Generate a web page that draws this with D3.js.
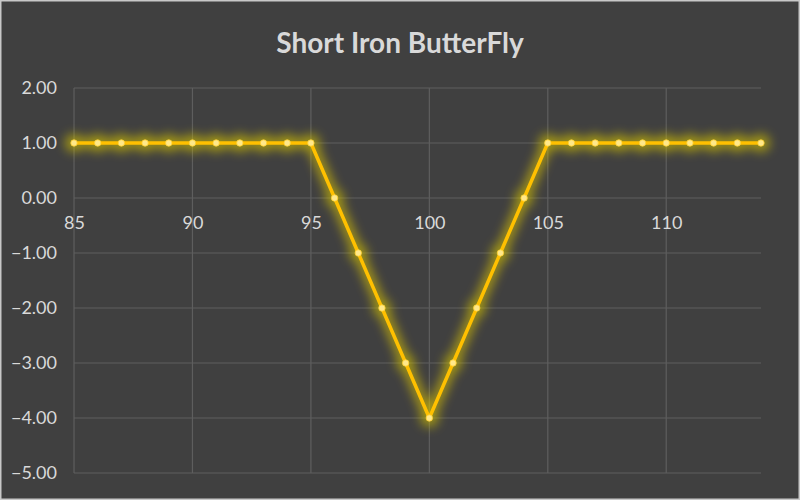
<!DOCTYPE html>
<html><head><meta charset="utf-8">
<script src="https://cdn.jsdelivr.net/npm/d3@7"></script>
<style>html,body{margin:0;padding:0;background:#404040;}svg{display:block;}</style>
</head><body>
<script>
const strikes = [85,86,87,88,89,90,91,92,93,94,95,96,97,98,99,100,101,102,103,104,105,106,107,108,109,110,111,112,113,114];
const payoff  = [1,1,1,1,1,1,1,1,1,1,1,0,-1,-2,-3,-4,-3,-2,-1,0,1,1,1,1,1,1,1,1,1,1];
const xTicks = [85,90,95,100,105,110];
const yTicks = [2,1,0,-1,-2,-3,-4,-5];
const title = "Short Iron ButterFly";

const W=800,H=500;
const FONT="Lato, 'Open Sans', sans-serif";
const svg=d3.select("body").append("svg").attr("width",W).attr("height",H);
svg.append("rect").attr("x",0.75).attr("y",0.75).attr("width",W-1.5).attr("height",H-1.5)
  .attr("fill","#404040").attr("stroke","#c8c8c8").attr("stroke-width",1.5);

const x=d3.scaleLinear().domain([85,114]).range([74,761]);
const y=d3.scaleLinear().domain([-5,2]).range([473,88]);

const defs=svg.append("defs");
const f=defs.append("filter").attr("id","glow").attr("x","-10%").attr("y","-10%").attr("width","120%").attr("height","120%");
f.append("feGaussianBlur").attr("in","SourceGraphic").attr("stdDeviation",5.5).attr("result","b");

// grid
const g=svg.append("g");
g.selectAll(".hg").data(yTicks).join("line")
  .attr("x1",x(85)).attr("x2",x(114)).attr("y1",d=>y(d)).attr("y2",d=>y(d))
  .attr("stroke","#5e5e5e").attr("stroke-width",1.2);
g.selectAll(".vg").data(xTicks).join("line")
  .attr("x1",d=>x(d)).attr("x2",d=>x(d)).attr("y1",y(2)).attr("y2",y(-5))
  .attr("stroke","#5e5e5e").attr("stroke-width",1.2);

// y axis labels
const yAxis=d3.axisLeft(y).tickValues(yTicks).tickFormat(d3.format(".2f")).tickSize(0).tickPadding(0);
const ya=svg.append("g").attr("transform","translate(57,0)").call(yAxis);
ya.select(".domain").remove();
ya.selectAll("text").attr("fill","#d9d9d9").attr("font-family",FONT).attr("font-size",18);

// x axis labels at y=0
const xAxis=d3.axisBottom(x).tickValues(xTicks).tickFormat(d3.format("d")).tickSize(0).tickPadding(0);
const xa=svg.append("g").attr("transform",`translate(0,${y(0)+18})`).call(xAxis);
xa.select(".domain").remove();
xa.selectAll("text").attr("fill","#d9d9d9").attr("font-family",FONT).attr("font-size",18);

// title
svg.append("text").attr("x",400).attr("y",53).attr("text-anchor","middle")
  .attr("fill","#d9d9d9").attr("font-family",FONT).attr("font-weight","bold").attr("font-size",28)
  .text(title);

const data=strikes.map((s,i)=>({s,v:payoff[i]}));
const line=d3.line().x(d=>x(d.s)).y(d=>y(d.v));

// glow
const gl=svg.append("g").attr("filter","url(#glow)").attr("opacity",0.7);
gl.append("path").datum(data).attr("d",line).attr("fill","none").attr("stroke","#e0c800").attr("stroke-width",10).attr("stroke-linejoin","round");
gl.selectAll("circle").data(data).join("circle").attr("cx",d=>x(d.s)).attr("cy",d=>y(d.v)).attr("r",9).attr("fill","#d0c000");

svg.append("path").datum(data).attr("d",line).attr("fill","none").attr("stroke","#ffc000").attr("stroke-width",3.5).attr("stroke-linejoin","round");
svg.selectAll(".m").data(data).join("circle").attr("cx",d=>x(d.s)).attr("cy",d=>y(d.v)).attr("r",3.2)
  .attr("fill","#ffe88a").attr("stroke","#ffd030").attr("stroke-width",0.8);
</script>
</body></html>
